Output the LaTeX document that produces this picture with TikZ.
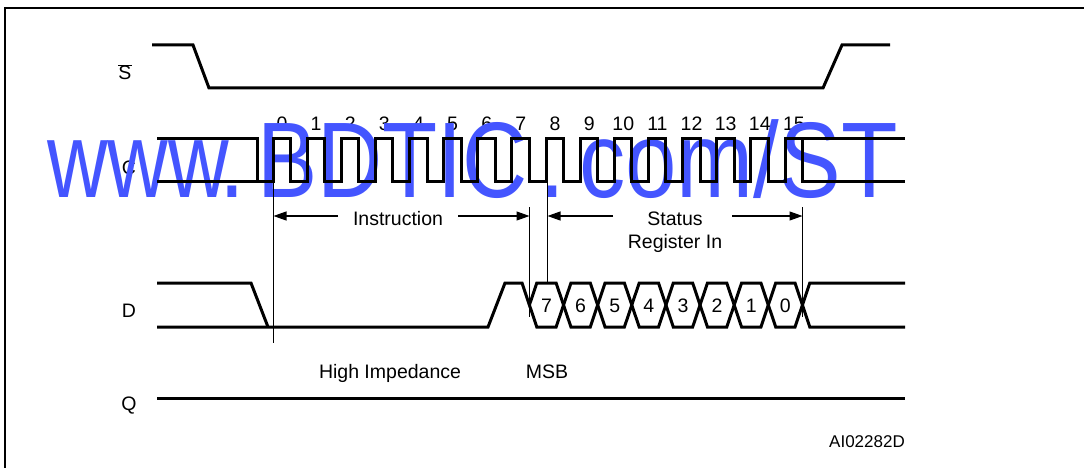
\documentclass[tikz,border=0pt]{standalone}
\usepackage{fontspec}
\setmainfont{Liberation Sans}
\usetikzlibrary{arrows.meta}
\definecolor{wm}{RGB}{68,85,255}
\begin{document}
\begin{tikzpicture}[x=1pt,y=-1pt,
  sig/.style={line width=3pt, line join=miter},
  thinline/.style={line width=1.1pt},
  dimarrow/.style={line width=1.2pt, -{Triangle[length=13pt,width=9pt]}},
  lbl/.style={inner sep=0pt, anchor=base, font=\fontsize{19.5}{20}\selectfont},
  small/.style={inner sep=0pt, anchor=base east, font=\fontsize{17}{18}\selectfont},
  wmtext/.style={inner sep=0pt, text=wm, font=\fontsize{107.5}{110}\selectfont},
]
\useasboundingbox (0,0) rectangle (1084,468);
% texts lying under the watermark
\foreach \k in {0,...,15} \node[lbl] (n\k) at ({282+34.13*\k},131) {\k};
\node[lbl] (cname) at (129,174) {C};
% watermark
\node[wmtext, anchor=base west] (wm1) at (47,197) {\scalebox{0.78}[1]{www}};
\node[wmtext, anchor=base] (wm2) at (232,197) {\scalebox{0.86}[1]{.}};
\node[wmtext, anchor=base west] (wm3) at (257,197) {\scalebox{0.84}[1]{BDTIC}};
\node[wmtext, anchor=base] (wm4) at (552,197) {\scalebox{0.86}[1]{.}};
\node[wmtext, anchor=base west] (wm5) at (579,197) {\scalebox{0.86}[1]{com/ST}};
% frame
\draw[line width=2pt] (5,480) -- (5,8) -- (1100,8);
% S bar
\draw[sig] (152,45) -- (193,45) -- (209,88) -- (823,88) -- (842,45) -- (890,45);
% clock
\draw[sig] (157,181) -- (257,181);
\draw[sig] (157,139) -- (257,139) -- (257,181)
  \foreach \k in {0,...,14} { -- ({273+34.13*\k},181) -- ({273+34.13*\k},139) -- ({290.5+34.13*\k},139) -- ({290.5+34.13*\k},181) }
  -- (785,181) -- (785,139) -- (905,139);
\draw[sig] (802.5,139) -- (802.5,181) -- (905,181);
% D
\draw[sig] (157,283) -- (251,283) -- (268,327);
\draw[sig] (157,327) -- (488,327) -- (505,283) -- (522,283)
  \foreach \k/\y in {0/327,1/283,2/327,3/283,4/327,5/283,6/327,7/283} { -- ({536.8+34.13*\k},\y) -- ({556.13+34.13*\k},\y) }
  -- (809.8,327) -- (905,327);
\draw[sig] (529.4,305)
  \foreach \k/\y in {0/283,1/327,2/283,3/327,4/283,5/327,6/283,7/327} { -- ({536.8+34.13*\k},\y) -- ({556.13+34.13*\k},\y) }
  -- (809.8,283) -- (905,283);
% Q
\draw[sig] (157,398) -- (905,398);
% markers
\draw[thinline] (273.5,181) -- (273.5,343);
\draw[thinline] (529.5,207) -- (529.5,317);
\draw[thinline] (547.5,181) -- (547.5,283);
\draw[thinline] (802.5,207) -- (802.5,317);
% dimension labels
\node[lbl] (instr) at (398,225) {Instruction};
\node[lbl] (status) at (675,225) {Status};
\node[lbl] (regin) at (675,248) {Register In};
\coordinate (i1) at (338,216); \coordinate (i0) at (273.5,216);
\coordinate (i2) at (458,216); \coordinate (i3) at (529.5,216);
\coordinate (s1) at (613,216); \coordinate (s0) at (547.5,216);
\coordinate (s2) at (732,216); \coordinate (s3) at (802.5,216);
\draw[dimarrow] (i1) -- (i0);
\draw[dimarrow] (i2) -- (i3);
\draw[dimarrow] (s1) -- (s0);
\draw[dimarrow] (s2) -- (s3);
% data bits
\foreach \d [count=\i from 0] in {7,6,5,4,3,2,1,0} \node[lbl] (d\d) at ({546.5+34.13*\i},312) {\d};
% signal names
\node[lbl] (sname) at (125,80) {$\overline{\mbox{S}}$};
\node[lbl] (dname) at (129,317) {D};
\node[lbl] (qname) at (129,410) {Q};
\node[lbl] (hiz) at (390,378) {High Impedance};
\node[lbl] (msb) at (547,378) {MSB};
\node[small] (code) at (905,447) {AI02282D};
\end{tikzpicture}
\end{document}
